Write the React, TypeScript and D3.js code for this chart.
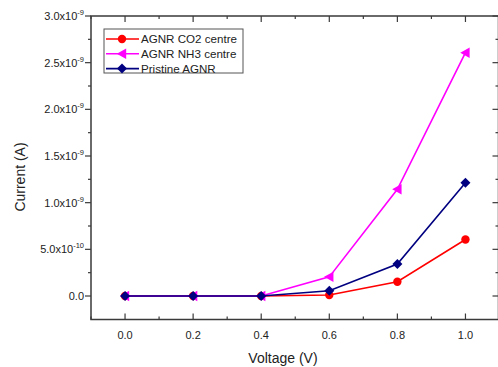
import React from "react";
import * as d3 from "d3";

const voltage = [0.0, 0.2, 0.4, 0.6, 0.8, 1.0];
const co2Current = [0, 0, 0, 0.01e-9, 0.153e-9, 0.605e-9];
const nh3Current = [0, 0, 0, 0.205e-9, 1.143e-9, 2.607e-9];
const pristineCurrent = [0, 0, 0, 0.057e-9, 0.343e-9, 1.214e-9];
const seriesNames = ["AGNR CO2 centre", "AGNR NH3 centre", "Pristine AGNR"];
const seriesColors = ["#ff0000", "#ff00ff", "#000080"];
const xTicks = [0.0, 0.2, 0.4, 0.6, 0.8, 1.0];
const xMinor = [-0.1, 0.1, 0.3, 0.5, 0.7, 0.9, 1.1];
const yTicks = [0, 0.5e-9, 1.0e-9, 1.5e-9, 2.0e-9, 2.5e-9, 3.0e-9];
const yMinor = [0.25e-9, 0.75e-9, 1.25e-9, 1.75e-9, 2.25e-9, 2.75e-9];

const W = 498, H = 367;
const L = 91, R = 498.5, T = 16, B = 319.5;

const x = d3.scaleLinear().domain([-0.1, 1.1]).range([L, R + 1]);
const y = d3.scaleLinear().domain([0, 3e-9]).range([296, T]);

const FONT = "'Liberation Sans', Arial, sans-serif";
const AX = "#3a3a3a";

function fmtY(v: number) {
  if (v === 0) return { m: "0.0", e: "" };
  const e = Math.floor(Math.log10(v) + 1e-9);
  const m = v / Math.pow(10, e);
  return { m: m.toFixed(1) + "x10", e: String(e) };
}

function Marker({ kind, cx, cy, color }: { kind: number; cx: number; cy: number; color: string }) {
  if (kind === 0) return <circle cx={cx} cy={cy} r={4.2} fill={color} />;
  if (kind === 1) {
    const s = 5.2;
    return <path d={`M${cx - s},${cy} L${cx + s * 0.8},${cy - s} L${cx + s * 0.8},${cy + s} Z`} fill={color} />;
  }
  const s = 5;
  return <path d={`M${cx},${cy - s} L${cx + s},${cy} L${cx},${cy + s} L${cx - s},${cy} Z`} fill={color} />;
}

export default function App() {
  const series = [co2Current, nh3Current, pristineCurrent];
  const line = d3
    .line<number>()
    .x((_, i) => x(voltage[i]))
    .y((d) => y(d));

  return (
    <svg width={W} height={H} style={{ position: "absolute", left: 0, top: 0, background: "#fff" }} fontFamily={FONT}>
      <rect x={L} y={T} width={R - L} height={B - T} fill="none" stroke={AX} strokeWidth={1.5} />
      {xTicks.map((t) => (
        <g key={"xt" + t}>
          <line x1={x(t)} x2={x(t)} y1={B} y2={B - 6} stroke={AX} strokeWidth={1.2} />
          <line x1={x(t)} x2={x(t)} y1={T} y2={T + 6} stroke={AX} strokeWidth={1.2} />
          <text x={x(t)} y={339} textAnchor="middle" fontSize={11} fill="#222">
            {t.toFixed(1)}
          </text>
        </g>
      ))}
      {xMinor.map((t) => (
        <g key={"xm" + t}>
          <line x1={x(t)} x2={x(t)} y1={B} y2={B - 3} stroke={AX} strokeWidth={1.2} />
          <line x1={x(t)} x2={x(t)} y1={T} y2={T + 3} stroke={AX} strokeWidth={1.2} />
        </g>
      ))}
      {yTicks.map((t) => {
        const f = fmtY(t);
        return (
          <g key={"yt" + t}>
            <line x1={L} x2={L - 6} y1={y(t)} y2={y(t)} stroke={AX} strokeWidth={1.2} />
            <line x1={R} x2={R - 6} y1={y(t)} y2={y(t)} stroke={AX} strokeWidth={1.2} />
            {f.e === "" ? (
              <text x={84} y={y(t) + 4} textAnchor="end" fontSize={11} fill="#222">
                {f.m}
              </text>
            ) : (
              <text x={84} y={y(t) + 4} textAnchor="end" fontSize={11} fill="#222">
                {f.m}
                <tspan fontSize={7.5} dy={-5}>
                  {f.e}
                </tspan>
              </text>
            )}
          </g>
        );
      })}
      {yMinor.map((t) => (
        <g key={"ym" + t}>
          <line x1={L} x2={L - 3} y1={y(t)} y2={y(t)} stroke={AX} strokeWidth={1.2} />
          <line x1={R} x2={R - 3} y1={y(t)} y2={y(t)} stroke={AX} strokeWidth={1.2} />
        </g>
      ))}
      <text x={283} y={363} textAnchor="middle" fontSize={14} fill="#222">
        Voltage (V)
      </text>
      <text transform={`translate(25,177) rotate(-90)`} textAnchor="middle" fontSize={14} fill="#222">
        Current (A)
      </text>
      {series.map((s, k) => (
        <g key={"s" + k}>
          <path d={line(s) || ""} fill="none" stroke={seriesColors[k]} strokeWidth={1.6} />
          {s.map((v, i) => (
            <Marker key={i} kind={k} cx={x(voltage[i])} cy={y(v)} color={seriesColors[k]} />
          ))}
        </g>
      ))}
      <rect x={104} y={29} width={139} height={44} fill="#fff" stroke="#555" strokeWidth={1} />
      {seriesNames.map((n, k) => {
        const ly = 39 + k * 14.8;
        return (
          <g key={"lg" + k}>
            <line x1={106} x2={139} y1={ly} y2={ly} stroke={seriesColors[k]} strokeWidth={1.6} />
            <Marker kind={k} cx={122} cy={ly} color={seriesColors[k]} />
            <text x={141} y={ly + 4} fontSize={11.6} fill="#222">
              {n}
            </text>
          </g>
        );
      })}
    </svg>
  );
}
